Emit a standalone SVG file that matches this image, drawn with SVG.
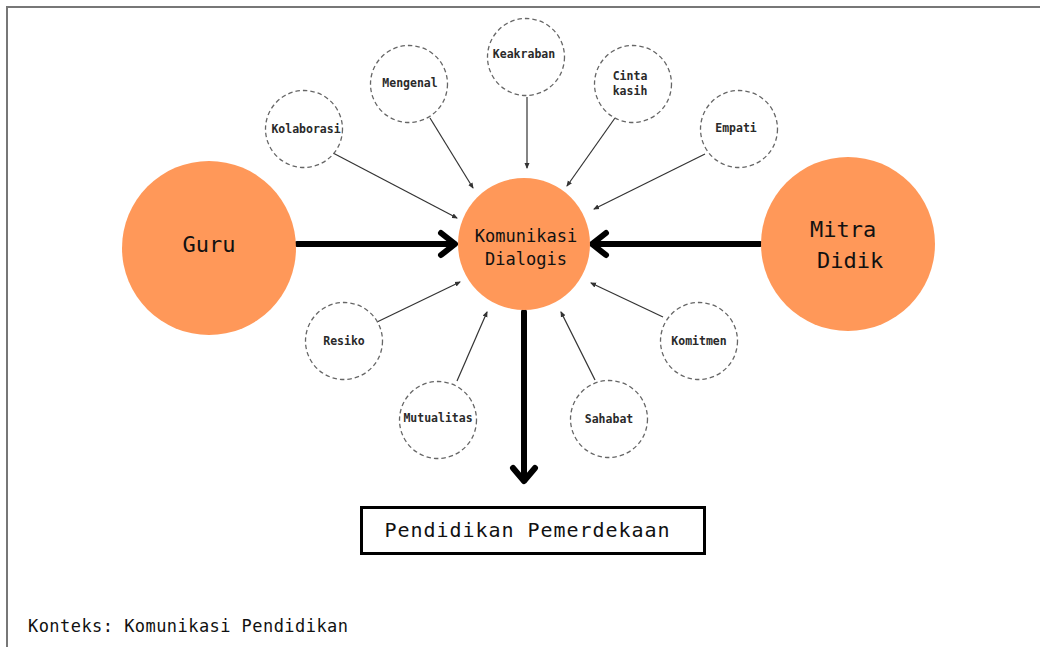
<svg xmlns="http://www.w3.org/2000/svg" width="1040" height="647" viewBox="0 0 1040 647">
<style>
.mono{font-family:"DejaVu Sans Mono","Liberation Mono",monospace;fill:#111}
.big{fill:#FF9859}
.dash{fill:#fff;stroke:#666;stroke-width:1.3;stroke-dasharray:4.5 3}
.lbl{font-size:11.5px;text-anchor:middle;font-weight:bold;fill:#2a2a2a}
.thin{stroke:#333;stroke-width:1.2;fill:none;marker-end:url(#ah)}
.thick{stroke:#000;stroke-width:6;fill:none;stroke-linecap:round;stroke-linejoin:round}
</style>
<defs>
<marker id="ah" markerUnits="userSpaceOnUse" markerWidth="6" markerHeight="6" viewBox="0 0 6 6" refX="5" refY="3" orient="auto">
<path d="M0,0.5 L6,3 L0,5.5 Z" fill="#333"/>
</marker>
</defs>
<rect width="1040" height="647" fill="#fff"/>
<path d="M7,647 V7 H1040" fill="none" stroke="#777" stroke-width="2"/>
<g id="connectors">
<line class="thin" x1="333" y1="153" x2="457" y2="218"/>
<line class="thin" x1="430" y1="118" x2="473" y2="188"/>
<line class="thin" x1="527" y1="97" x2="527" y2="168"/>
<line class="thin" x1="615" y1="118" x2="567" y2="186"/>
<line class="thin" x1="705" y1="154" x2="594" y2="209"/>
<line class="thin" x1="377" y1="322" x2="460" y2="282"/>
<line class="thin" x1="457" y1="381" x2="487" y2="312"/>
<line class="thin" x1="663" y1="317" x2="591" y2="283"/>
<line class="thin" x1="595" y1="380" x2="561" y2="312"/>
<line class="thick" x1="297" y1="244" x2="454" y2="244"/>
<polyline class="thick" points="441,233 455,244 441,255"/>
<line class="thick" x1="760" y1="244" x2="593" y2="244"/>
<polyline class="thick" points="606,233 592,244 606,255"/>
<line class="thick" x1="524" y1="312" x2="524" y2="480"/>
<polyline class="thick" points="513,468 524,481 535,468"/>
</g>
<g id="guru">
<circle class="big" cx="209" cy="248" r="87"/>
<text class="mono" x="209" y="252" font-size="22" text-anchor="middle">Guru</text>
</g>
<g id="mitra-didik">
<circle class="big" cx="848" cy="244" r="87"/>
<text class="mono" x="810" y="237" font-size="22">Mitra</text>
<text class="mono" x="817" y="268" font-size="22">Didik</text>
</g>
<g id="komunikasi-dialogis">
<circle class="big" cx="524" cy="244" r="66"/>
<text class="mono" x="526" y="242" font-size="17" text-anchor="middle">Komunikasi</text>
<text class="mono" x="526" y="265" font-size="17" text-anchor="middle">Dialogis</text>
</g>
<g id="kolaborasi"><circle class="dash" cx="304" cy="129" r="38.5"/><text class="mono lbl" x="306" y="133">Kolaborasi</text></g>
<g id="mengenal"><circle class="dash" cx="409" cy="84" r="38.5"/><text class="mono lbl" x="410" y="87">Mengenal</text></g>
<g id="keakraban"><circle class="dash" cx="526" cy="57" r="38.5"/><text class="mono lbl" x="524" y="58">Keakraban</text></g>
<g id="cinta-kasih"><circle class="dash" cx="633" cy="84" r="38.5"/><text class="mono lbl" x="630" y="80">Cinta</text><text class="mono lbl" x="630" y="95">kasih</text></g>
<g id="empati"><circle class="dash" cx="739" cy="129" r="38.5"/><text class="mono lbl" x="736" y="132">Empati</text></g>
<g id="resiko"><circle class="dash" cx="344" cy="341" r="38.5"/><text class="mono lbl" x="344" y="345">Resiko</text></g>
<g id="mutualitas"><circle class="dash" cx="438" cy="420" r="38.5"/><text class="mono lbl" x="438" y="422">Mutualitas</text></g>
<g id="komitmen"><circle class="dash" cx="699" cy="341" r="38.5"/><text class="mono lbl" x="699" y="345">Komitmen</text></g>
<g id="sahabat"><circle class="dash" cx="609" cy="419" r="38.5"/><text class="mono lbl" x="609" y="423">Sahabat</text></g>
<g id="pendidikan-pemerdekaan">
<rect x="361.5" y="507.5" width="343" height="46" fill="#fff" stroke="#000" stroke-width="3"/>
<text class="mono" x="527" y="537" font-size="20" text-anchor="middle" textLength="285">Pendidikan Pemerdekaan</text>
</g>
<text class="mono" x="28" y="632" font-size="17" textLength="320">Konteks: Komunikasi Pendidikan</text>
</svg>
